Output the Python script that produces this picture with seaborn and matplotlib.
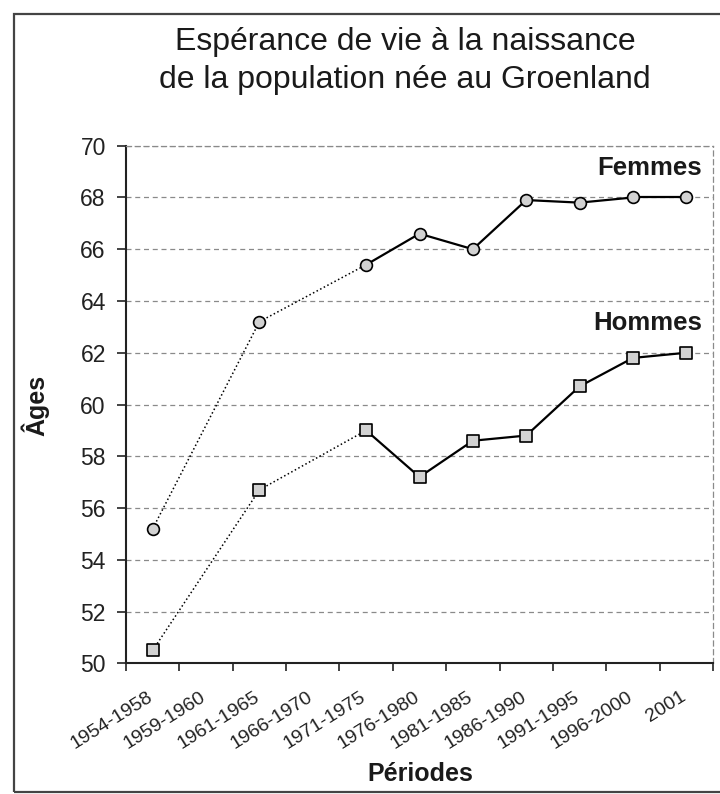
import numpy as np
import pandas as pd
import matplotlib
matplotlib.use('Agg')
import matplotlib.pyplot as plt
import matplotlib.transforms as mtransforms
from matplotlib.patches import Rectangle
import seaborn as sns

# ===============================
# DATA
# ===============================
periodes = ['1954-1958', '1959-1960', '1961-1965', '1966-1970',
            '1971-1975', '1976-1980', '1981-1985', '1986-1990',
            '1991-1995', '1996-2000', '2001']
femmes = [55.2, np.nan, 63.2, np.nan, 65.4, 66.6, 66.0, 67.9, 67.8, 68.0, 68.0]
hommes = [50.5, np.nan, 56.7, np.nan, 59.0, 57.2, 58.6, 58.8, 60.7, 61.8, 62.0]
y_ticks = [50, 52, 54, 56, 58, 60, 62, 64, 66, 68, 70]

df = pd.DataFrame({
    'pos': np.arange(len(periodes)),
    'periode': periodes,
    'Femmes': femmes,
    'Hommes': hommes,
})

# ===============================
# STYLE
# ===============================
sns.set_theme(style='white')
plt.rcParams['font.family'] = ['Liberation Sans', 'DejaVu Sans']

fig = plt.figure(figsize=(7.2, 7.94), dpi=100)
ax = fig.add_axes([126 / 720, 1 - 663.3 / 794,
                   (713 - 126) / 720, (663.3 - 145.7) / 794])

# ===============================
# LINES + MARKERS
# ===============================
for col, marker in [('Femmes', 'o'), ('Hommes', 's')]:
    valid = df.dropna(subset=[col]).reset_index(drop=True)
    # solid between consecutive periods, dotted across missing periods
    for i in range(len(valid) - 1):
        seg = valid.iloc[i:i + 2]
        gap = seg['pos'].iloc[1] - seg['pos'].iloc[0] > 1
        sns.lineplot(data=seg, x='pos', y=col, ax=ax, color='black',
                     linestyle=':' if gap else '-',
                     linewidth=1.1 if gap else 1.6,
                     zorder=2, legend=False)
    sns.scatterplot(data=valid, x='pos', y=col, ax=ax, marker=marker,
                    s=72 if marker == 'o' else 70, color='#d2d2d2',
                    edgecolor='black', linewidth=1.2, zorder=3,
                    legend=False)

# ===============================
# AXES
# ===============================
ax.set_xlim(-0.5, len(periodes) - 0.5)
ax.set_ylim(50, 70)
ax.set_yticks(y_ticks)
ax.set_yticklabels([str(v) for v in y_ticks], fontsize=16.5, color='#222')
ax.tick_params(axis='y', which='major', left=True, length=6.5, width=1.2,
               pad=8, color='#222')

# ticks on category boundaries, labels on category centres
ax.set_xticks(np.arange(len(periodes) + 1) - 0.5)
ax.set_xticklabels([])
ax.tick_params(axis='x', which='major', bottom=True, length=6, width=1.2,
               color='#222')
ax.set_xticks(df['pos'], minor=True)
ax.set_xticklabels(periodes, minor=True, rotation=32, ha='right',
                   rotation_mode='anchor', fontsize=14, color='#222')
ax.tick_params(axis='x', which='minor', length=0, pad=18)
offset = mtransforms.ScaledTranslation(-6 / 100, 0, fig.dpi_scale_trans)
for lbl in ax.get_xticklabels(minor=True):
    lbl.set_transform(lbl.get_transform() + offset)

ax.yaxis.grid(True, linestyle=(0, (4, 3)), color='#8a8a8a', linewidth=0.9)
ax.xaxis.grid(False)
for side in ['top', 'right']:
    ax.spines[side].set_linestyle((0, (4, 3)))
    ax.spines[side].set_color('#8a8a8a')
    ax.spines[side].set_linewidth(0.9)
for side in ['left', 'bottom']:
    ax.spines[side].set_color('#222')
    ax.spines[side].set_linewidth(1.5)

ax.set_xlabel('')
ax.set_ylabel('')

# ===============================
# TEXTS
# ===============================
fig.text(405 / 720, 1 - 50 / 794, 'Espérance de vie à la naissance',
         ha='center', va='baseline', fontsize=23, color='#1a1a1a')
fig.text(405 / 720, 1 - 88 / 794, 'de la population née au Groenland',
         ha='center', va='baseline', fontsize=23, color='#1a1a1a')
fig.text(35 / 720, 1 - 405 / 794, 'Âges', rotation=90, ha='center',
         va='center', fontsize=18, fontweight='bold', color='#1a1a1a')
fig.text(420 / 720, 1 - 774 / 794, 'Périodes', ha='center', va='center',
         fontsize=18, fontweight='bold', color='#1a1a1a')

ax.text(10.29, 68.87, 'Femmes', ha='right', va='baseline', fontsize=18.5,
        fontweight='bold', color='#1a1a1a')
ax.text(10.29, 62.88, 'Hommes', ha='right', va='baseline', fontsize=18.5,
        fontweight='bold', color='#1a1a1a')

# frame around the whole figure
fig.patches.append(Rectangle((14 / 720, 2 / 794), 1.0, 778 / 794,
                             transform=fig.transFigure, fill=False,
                             edgecolor='#444', linewidth=1.6))

fig.savefig('out.png', dpi=100)
